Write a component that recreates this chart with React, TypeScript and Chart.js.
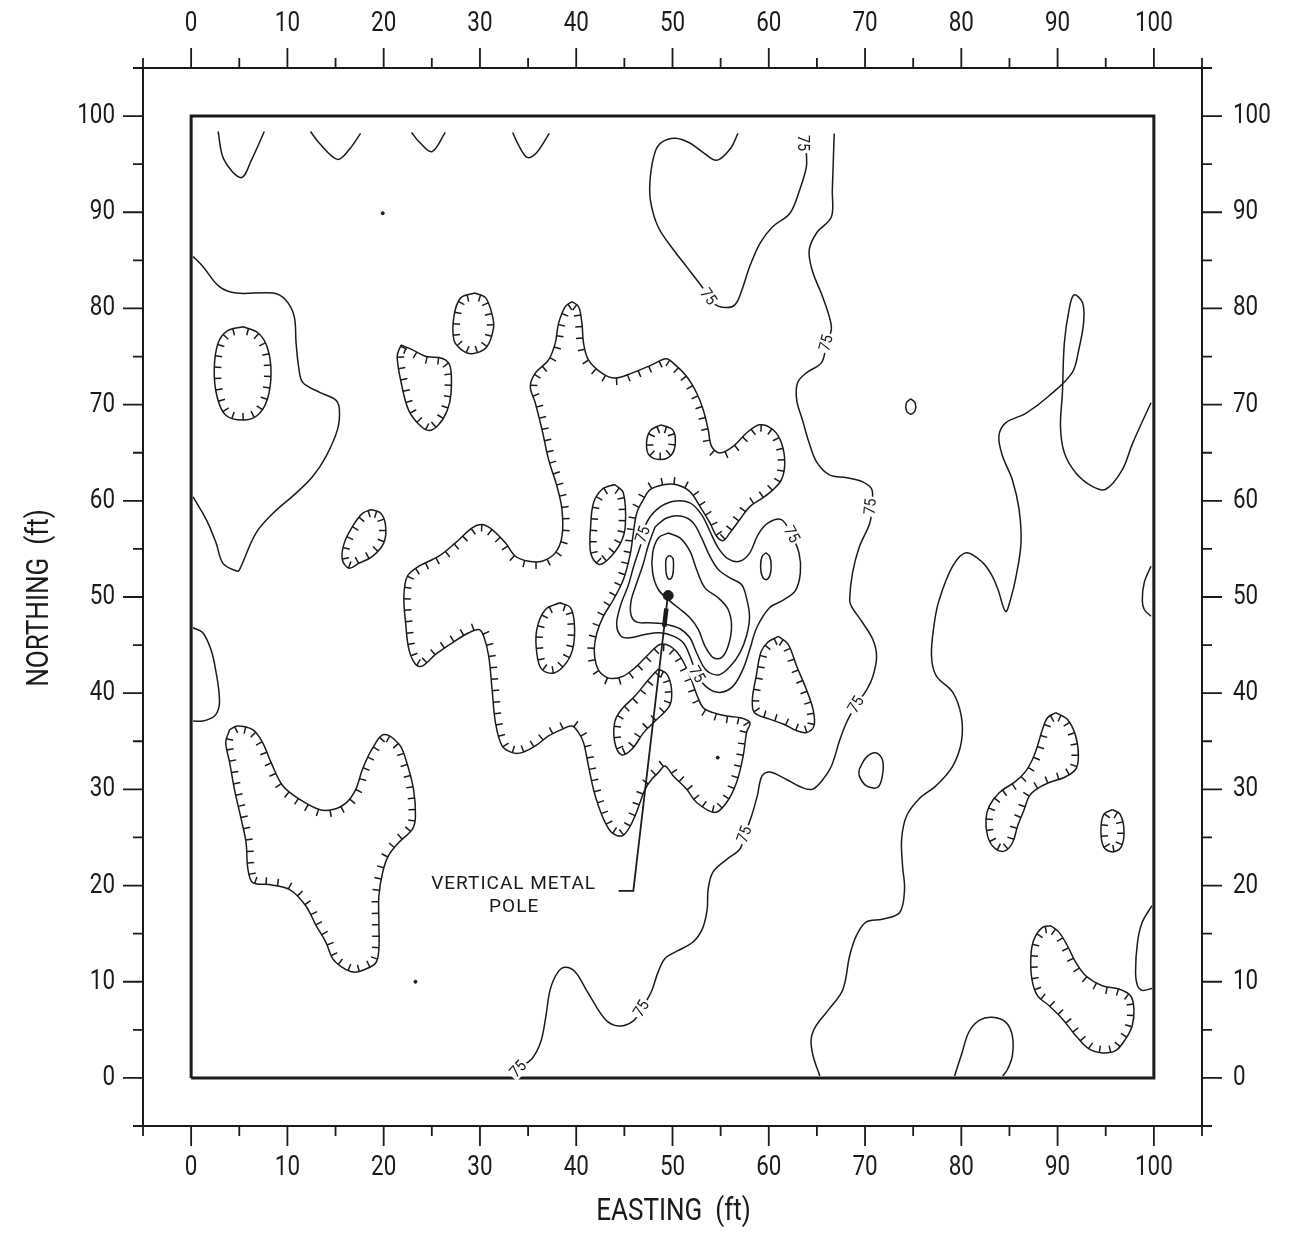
import React, { useEffect, useRef } from 'react';
import { Chart, registerables } from 'chart.js';

Chart.register(...registerables);

type P = [number, number];

const W = 1296;
const H = 1235;
const INK = '#1a1a1a';

// ---------- axes ----------
const AXIS_MIN = -5;
const AXIS_MAX = 105;
const majorTicks = [0, 10, 20, 30, 40, 50, 60, 70, 80, 90, 100];
const minorTicks = [-5, 5, 15, 25, 35, 45, 55, 65, 75, 85, 95, 105];
const tickLabels = ['0', '10', '20', '30', '40', '50', '60', '70', '80', '90', '100'];
const xTitle = 'EASTING  (ft)';
const yTitle = 'NORTHING  (ft)';

// survey boundary
const surveyBox: P[] = [[0, 0], [100, 0], [100, 100], [0, 100], [0, 0]];

// ---------- plain (non-depression) contours, open ----------
const topV1: P[] = [[2.8, 98.4], [3.4, 95.5], [5.2, 93.6], [6.3, 95.5], [7.6, 98.4]];
const topV2: P[] = [[12.4, 98.4], [13.3, 97.2], [15.2, 95.5], [16.4, 96.5], [17.6, 98.2]];
const topV3: P[] = [[22.9, 98.3], [23.7, 97.3], [25.0, 96.3], [26.4, 98.3]];
const topV4: P[] = [[33.4, 98.3], [34.0, 97.0], [34.9, 95.7], [35.8, 96.1], [37.2, 98.2]];

const northLoop: P[] = [
  [56.8, 98.2], [56.0, 96.6], [54.6, 95.4], [53.2, 96.2], [51.8, 97.2], [50.3, 97.7], [48.9, 97.3],
  [48.2, 96.3], [47.7, 93.7], [47.7, 91.3], [48.5, 88.5], [50.1, 86.1], [51.5, 84.3], [53.1, 82.2],
  [54.2, 80.6], [55.4, 80.1], [56.5, 80.4], [57.2, 81.9], [58.0, 84.3], [59.1, 86.8], [60.4, 88.5],
  [62.2, 89.9], [63.2, 92.3], [63.9, 94.7], [63.9, 96.2], [63.8, 98.2],
];

const contour75Main: P[] = [
  [66.8, 98.2], [66.6, 92.3], [66.5, 89.5], [65.0, 87.9], [64.2, 86.1], [64.5, 84.0], [65.6, 81.2],
  [66.3, 79.1], [66.5, 77.8], [66.0, 76.4], [65.5, 74.4], [63.9, 73.3], [63.0, 72.3], [62.9, 70.5],
  [63.5, 68.4], [64.2, 66.0], [65.0, 64.0], [66.3, 62.7], [68.1, 62.4], [69.7, 62.0], [70.7, 61.2],
  [70.7, 59.4], [70.5, 57.7], [69.4, 55.2], [68.7, 52.5], [68.4, 49.7], [68.6, 49.0], [69.7, 47.4],
  [70.8, 45.6], [71.2, 43.8], [70.8, 41.7], [70.2, 40.4], [69.1, 38.8], [68.1, 37.0], [67.4, 35.2],
  [66.5, 32.4], [65.6, 31.0], [64.5, 30.0], [63.2, 30.3], [61.9, 31.0], [60.1, 31.8], [59.3, 31.4],
  [58.8, 29.3], [58.2, 27.2], [57.5, 25.3], [57.0, 23.8], [55.6, 22.7], [54.2, 21.4], [53.7, 19.6],
  [53.6, 17.5], [53.1, 15.5], [52.1, 14.1], [50.5, 13.2], [49.2, 12.4], [48.5, 11.0], [47.9, 9.2],
  [47.4, 8.2], [46.8, 7.2], [45.9, 5.9], [44.4, 5.4], [43.0, 6.1], [41.2, 8.9], [39.9, 11.0],
  [38.9, 11.5], [38.1, 11.0], [37.3, 9.2], [36.8, 6.1], [36.3, 3.7], [35.4, 2.0], [34.0, 0.9], [33.7, 0.1],
];

const contourEast: P[] = [
  [99.7, 70.2], [97.8, 66.0], [96.7, 63.2], [95.0, 61.2], [93.6, 61.5], [91.9, 62.9], [90.7, 65.0],
  [90.3, 67.7], [90.5, 71.2], [90.7, 76.4], [91.2, 79.9], [91.7, 81.4], [92.6, 80.6], [92.7, 78.5],
  [92.2, 75.7], [91.5, 73.3], [89.1, 70.9], [86.7, 69.1], [84.6, 68.1], [83.9, 66.7], [84.3, 64.6],
  [85.3, 62.2], [86.0, 59.1], [86.2, 55.6], [85.7, 52.2], [85.1, 49.7], [84.6, 48.5], [83.8, 50.8],
  [83.2, 52.2], [82.2, 53.6], [80.5, 54.6], [79.1, 53.2], [77.7, 49.7], [77.2, 47.3], [76.9, 43.9],
  [77.4, 41.8], [79.1, 40.1], [80.0, 37.6], [80.0, 34.9], [79.1, 32.4], [77.4, 30.4], [75.6, 29.0],
  [74.3, 27.2], [73.8, 24.8], [73.9, 22.0], [74.1, 19.6], [73.6, 17.2], [71.8, 16.5], [70.1, 16.2],
  [69.1, 14.8], [68.4, 12.7], [67.7, 9.2], [66.3, 7.2], [64.9, 5.4], [64.4, 4.0], [64.6, 2.3], [65.3, 0.2],
];

const eastEdgeBump: P[] = [[99.7, 53.2], [99.0, 51.5], [98.8, 49.7], [99.0, 48.7], [99.7, 48.0]];
const eastEdgeLow: P[] = [[99.8, 17.9], [98.8, 16.2], [98.3, 14.1], [98.1, 11.0], [98.3, 9.6], [98.8, 9.1], [99.8, 9.3]];
const southBump: P[] = [
  [79.3, 0.2], [80.1, 2.7], [80.8, 4.8], [81.9, 6.0], [83.2, 6.3], [84.6, 5.8], [85.3, 4.4],
  [85.3, 2.3], [84.8, 0.9], [84.3, 0.2],
];
const westLobe: P[] = [
  [0.2, 85.4], [1.2, 84.4], [2.9, 82.3], [4.7, 81.6], [8.5, 81.6], [9.8, 80.9], [10.7, 79.2],
  [10.9, 76.4], [11.2, 73.7], [11.6, 72.3], [13.3, 71.3], [15.0, 70.5], [15.4, 69.5], [15.2, 67.4],
  [14.0, 64.6], [12.6, 62.5], [10.9, 60.8], [8.5, 58.7], [6.7, 56.6], [5.0, 52.8], [4.7, 52.7],
  [3.3, 53.5], [2.6, 55.6], [1.6, 58.0], [0.2, 60.4],
];
const westLow: P[] = [[0.2, 46.8], [1.2, 46.3], [2.1, 44.4], [2.6, 42.1], [2.9, 40.0], [2.9, 38.6], [2.4, 37.6], [1.2, 37.1], [0.2, 37.1]];

// ---------- plain closed contours ----------
const loop71: P[] = [[69.4, 32.1], [70.1, 33.3], [71.1, 33.8], [71.8, 33.1], [71.8, 31.4], [71.3, 30.2], [70.1, 30.4], [69.4, 31.4]];
const tiny75: P[] = [[74.75, 70.6], [75.2, 70.2], [75.2, 69.4], [74.75, 69.0], [74.3, 69.4], [74.3, 70.2]];
const ringB: P[] = [
  [46.7, 55.4], [47.2, 57.5], [48.36, 59.09], [50.09, 59.95], [51.81, 59.78], [53.02, 58.57], [53.88, 56.84],
  [54.75, 55.11], [55.78, 53.96], [57.0, 53.72], [58.03, 54.59], [58.89, 56.49], [59.93, 57.7], [61.31, 58.05],
  [62.35, 56.49], [63.14, 54.59], [63.28, 52.51], [62.76, 50.67], [61.45, 49.64], [60.1, 48.91], [58.76, 46.83],
  [58.03, 44.55], [57.31, 42.47], [56.27, 40.71], [54.92, 40.08], [53.58, 40.6], [52.54, 41.95], [51.81, 43.86],
  [51.12, 45.24], [50.09, 45.93], [48.7, 46.28], [47.15, 46.11], [45.59, 45.76], [44.7, 45.9], [44.2, 47.1],
  [44.6, 49.1], [45.4, 51.2], [46.0, 53.3],
];
const ringC: P[] = [
  [48.2, 57.3], [49.39, 58.22], [50.95, 58.39], [52.16, 57.7], [53.02, 56.14], [53.88, 54.24], [54.75, 52.86],
  [55.96, 51.99], [57.17, 51.3], [57.68, 49.92], [58.0, 48.0], [57.7, 46.0], [57.0, 44.2], [56.0, 42.8],
  [54.8, 41.9], [53.5, 42.4], [52.5, 44.2], [51.81, 45.76], [50.78, 46.7], [49.39, 47.15], [47.67, 47.32],
  [46.29, 47.39], [45.7, 48.1], [45.7, 49.6], [46.3, 51.5], [46.95, 53.4], [47.5, 55.4],
];
const ringD: P[] = [
  [49.57, 56.66], [50.78, 56.14], [51.81, 54.76], [52.5, 52.86], [53.37, 50.95], [54.75, 49.92], [55.78, 48.7],
  [56.13, 46.97], [55.78, 44.9], [55.09, 43.69], [54.23, 43.69], [53.37, 44.9], [52.68, 46.63], [51.81, 47.84],
  [50.6, 48.88], [49.74, 49.57], [48.53, 50.78], [47.94, 52.51], [47.94, 54.59], [48.53, 56.14],
];
const ovalPole: P[] = [[49.7, 54.35], [50.05, 54.0], [50.1, 53.1], [50.0, 52.2], [49.7, 51.85], [49.4, 52.2], [49.3, 53.1], [49.35, 54.0]];
const ovalEast: P[] = [[59.7, 54.6], [60.1, 54.2], [60.25, 53.2], [60.1, 52.2], [59.7, 51.8], [59.3, 52.2], [59.15, 53.2], [59.3, 54.2]];

// ---------- depression (hachured) contours ----------
const dep1: P[] = [[5.4, 78.1], [6.9, 77.5], [7.9, 76.0], [8.3, 73.3], [7.9, 70.5], [6.9, 68.9], [5.4, 68.4], [3.6, 68.9], [2.7, 70.8], [2.4, 73.6], [2.8, 76.4], [3.8, 77.7]];
const dep2: P[] = [[21.8, 76.2], [23.0, 75.7], [24.4, 75.0], [26.1, 74.8], [26.9, 74.0], [27.0, 71.2], [26.6, 69.4], [25.7, 67.9], [24.7, 67.3], [23.7, 67.9], [22.6, 69.4], [21.9, 71.9], [21.4, 75.0]];
const dep3: P[] = [[29.5, 81.6], [30.6, 81.1], [31.3, 79.2], [31.4, 77.9], [30.7, 76.0], [29.2, 75.3], [28.1, 75.7], [27.3, 76.7], [27.3, 79.2], [28.0, 81.1]];
const dep4: P[] = [[18.7, 59.1], [19.7, 58.7], [20.2, 57.4], [20.0, 55.6], [18.8, 54.2], [17.4, 53.5], [16.4, 53.0], [15.7, 53.9], [15.9, 55.6], [16.8, 57.4], [17.8, 58.7]];
const dep5: P[] = [[48.8, 67.9], [50.0, 67.4], [50.3, 66.1], [49.9, 64.8], [48.8, 64.3], [47.6, 64.7], [47.3, 66.0], [47.7, 67.3]];
const dep6: P[] = [[44.0, 61.7], [44.9, 60.8], [45.1, 57.4], [44.6, 55.6], [43.3, 53.9], [42.3, 53.4], [41.5, 54.6], [41.5, 57.4], [41.8, 59.8], [42.7, 61.2]];
const dep7: P[] = [[38.3, 49.4], [39.4, 48.9], [39.8, 47.3], [39.7, 44.9], [39.0, 43.2], [37.7, 42.1], [36.4, 42.5], [35.9, 44.2], [35.9, 46.6], [36.8, 48.7]];
const dep8: P[] = [[48.5, 42.5], [49.4, 42.0], [49.9, 40.4], [49.7, 38.7], [48.2, 37.1], [47.0, 35.9], [45.8, 34.2], [44.7, 33.6], [44.0, 34.9], [44.0, 37.0], [44.7, 38.3], [46.1, 39.7], [47.5, 41.4]];
const dep9: P[] = [[61.0, 45.9], [62.0, 45.1], [62.9, 42.8], [63.9, 40.4], [64.6, 38.3], [64.7, 36.6], [63.9, 35.9], [62.9, 36.1], [61.5, 36.8], [60.1, 37.3], [58.5, 38.0], [58.3, 39.4], [58.7, 41.8], [59.2, 44.3], [59.9, 45.3]];
const dep10: P[] = [
  [4.0, 36.2], [4.8, 36.6], [6.4, 36.2], [7.4, 34.9], [8.3, 32.8], [9.5, 30.4], [11.2, 29.0], [13.3, 27.9],
  [14.7, 27.9], [16.1, 28.6], [17.1, 30.0], [17.8, 32.1], [18.8, 34.2], [20.0, 35.7], [21.6, 34.7], [22.3, 33.1],
  [23.1, 30.0], [23.3, 27.2], [23.0, 25.9], [21.6, 24.5], [20.5, 23.1], [19.9, 21.4], [19.5, 18.9], [19.5, 16.2],
  [19.5, 13.4], [19.2, 12.0], [18.1, 11.3], [16.9, 11.0], [15.7, 11.5], [14.7, 12.4], [14.0, 14.1], [13.0, 15.8],
  [11.9, 17.9], [10.2, 19.6], [8.1, 20.1], [6.4, 20.3], [5.9, 21.7], [5.7, 24.5], [5.2, 26.9], [4.5, 30.0],
  [4.0, 32.8], [3.6, 34.9],
];
const depCentral: P[] = [
  [39.55, 80.72], [40.24, 80.2], [40.59, 78.47], [40.76, 76.4], [41.27, 74.66], [42.66, 73.28], [44.04, 72.76],
  [45.77, 73.28], [47.84, 74.14], [49.33, 74.77], [50.08, 74.32], [51.47, 72.93], [52.51, 71.21], [53.19, 69.47],
  [53.71, 67.39], [54.06, 65.66], [54.92, 64.97], [56.3, 65.66], [57.69, 67.05], [59.07, 67.91], [60.45, 67.39],
  [61.32, 66.01], [61.66, 63.94], [61.32, 62.2], [60.45, 61.16], [59.41, 60.33], [58.03, 59.4], [56.99, 58.05],
  [55.96, 56.67], [55.26, 55.87], [54.58, 56.31], [53.89, 57.7], [52.85, 59.43], [51.81, 60.96], [50.44, 61.68],
  [49.05, 61.68], [47.67, 61.16], [46.97, 60.12], [46.29, 58.74], [45.91, 56.49], [45.6, 54.41], [44.9, 51.82],
  [43.87, 49.74], [42.83, 48.01], [42.15, 46.28], [41.87, 44.55], [42.07, 42.99], [42.49, 42.16], [43.52, 41.54],
  [44.9, 41.78], [46.29, 42.81], [47.67, 44.21], [48.7, 45.07], [49.74, 44.89], [50.78, 43.85], [51.81, 41.78],
  [52.51, 39.88], [53.19, 38.49], [54.23, 37.98], [55.62, 37.62], [56.99, 37.46], [58.03, 36.94], [57.69, 35.9],
  [57.34, 33.47], [56.65, 30.71], [55.62, 28.63], [54.4, 27.59], [52.51, 28.63], [51.47, 30.01], [50.08, 31.39],
  [49.22, 32.43], [48.53, 31.74], [47.84, 31.05], [47.15, 30.01], [46.63, 28.63], [46.11, 27.24], [45.42, 25.86],
  [44.74, 25.16], [43.7, 25.51], [43.01, 26.55], [42.31, 28.28], [41.79, 30.01], [41.27, 32.43], [40.76, 34.86],
  [40.24, 35.9], [39.55, 36.58], [38.52, 36.24], [37.13, 35.55], [35.75, 34.51], [34.37, 33.82], [33.34, 33.82],
  [32.3, 34.51], [31.61, 36.94], [31.26, 40.39], [30.91, 43.85], [30.39, 45.93], [29.88, 46.62], [28.84, 46.28],
  [27.12, 45.24], [25.39, 44.03], [24.01, 42.81], [23.32, 42.99], [22.62, 44.55], [22.28, 47.32], [22.1, 50.08],
  [22.46, 52.16], [23.66, 53.2], [25.73, 54.24], [27.46, 55.63], [29.19, 57.19], [30.23, 57.53], [31.26, 57.01],
  [32.64, 55.63], [33.68, 54.24], [35.06, 53.72], [36.45, 53.72], [37.82, 54.59], [38.52, 56.31], [38.52, 59.09],
  [38.0, 61.51], [37.13, 64.28], [36.45, 67.39], [35.75, 70.17], [35.23, 71.89], [35.75, 73.28], [37.13, 74.66],
  [37.82, 76.4], [38.17, 78.47], [38.86, 80.2],
];
const dep12: P[] = [
  [89.81, 37.97], [91.01, 37.28], [91.88, 35.55], [92.16, 33.47], [91.88, 32.09], [90.67, 31.23], [89.12, 30.71],
  [87.74, 29.98], [87.05, 29.29], [86.53, 27.91], [85.84, 26.17], [85.32, 24.45], [84.46, 23.58], [83.42, 23.93],
  [82.73, 25.14], [82.56, 26.88], [82.9, 28.26], [83.94, 29.65], [85.67, 30.86], [86.7, 31.9], [87.39, 33.11],
  [87.91, 34.5], [88.43, 36.24], [88.95, 37.45],
];
const dep13: P[] = [[95.7, 27.9], [96.5, 27.4], [96.9, 25.7], [96.6, 24.0], [95.7, 23.5], [94.8, 24.0], [94.5, 25.7], [94.8, 27.4]];
const dep14: P[] = [
  [89.3, 15.82], [90.16, 15.13], [91.02, 13.74], [91.89, 12.01], [92.92, 10.62], [94.64, 9.58], [96.37, 9.24],
  [97.58, 8.54], [97.93, 7.16], [97.75, 5.43], [97.06, 4.05], [96.03, 2.83], [94.64, 2.6], [93.26, 3.01],
  [91.89, 4.39], [90.5, 6.13], [89.12, 7.51], [87.91, 8.55], [87.33, 10.28], [87.23, 12.7], [87.56, 14.43], [88.43, 15.65],
];

// contour value labels
const contourLabelText = '75';
const contourLabelPoints: P[] = [
  [63.55, 97.2], [53.7, 81.2], [66.0, 76.4], [70.6, 59.4], [69.1, 38.8], [57.5, 25.3], [46.8, 7.2],
  [34.0, 0.9], [46.95, 56.5], [62.35, 56.49], [52.5, 41.95],
];
const contourLabelAngles = [90, 55, -74, -85, -59, -70, -59, -47, -71, 62, 60];

// pole annotation
const poleLocation: P[] = [[49.55, 50.15]];
const leaderLine: P[] = [[44.4, 19.45], [45.93, 19.45], [49.5, 50.0]];
const leaderArrow: P[] = [[49.14, 46.9], [49.36, 48.8]];
const poleText = ['VERTICAL METAL', 'POLE'];
const poleTextPoints: P[] = [[33.5, 20.1], [33.55, 17.7]];
const specks: P[] = [[19.9, 89.9], [23.3, 10.0], [54.7, 33.3]];

const plainOpen = [topV1, topV2, topV3, topV4, northLoop, contour75Main, contourEast, eastEdgeBump, eastEdgeLow, southBump, westLobe, westLow];
const plainClosed = [loop71, tiny75, ringB, ringC, ringD, ovalPole, ovalEast];
const depressions = [dep1, dep2, dep3, dep4, dep5, dep6, dep7, dep8, dep9, dep10, depCentral, dep12, dep13, dep14];

const close = (pts: P[]): P[] => [...pts, pts[0]];
const toXY = (pts: P[]) => pts.map(([x, y]) => ({ x, y }));

const HACH_SPACING = 11.5;
const HACH_LEN = 7;

function drawHachures(ctx: CanvasRenderingContext2D, elems: any[]) {
  const poly: number[][] = [];
  for (let i = 0; i < elems.length; i++) {
    const a = elems[i];
    if (i === elems.length - 1) {
      poly.push([a.x, a.y]);
      break;
    }
    const b = elems[i + 1];
    const c1x = a.cp2x ?? a.x, c1y = a.cp2y ?? a.y;
    const c2x = b.cp1x ?? b.x, c2y = b.cp1y ?? b.y;
    for (let k = 0; k < 10; k++) {
      const t = k / 10, u = 1 - t;
      poly.push([
        u * u * u * a.x + 3 * u * u * t * c1x + 3 * u * t * t * c2x + t * t * t * b.x,
        u * u * u * a.y + 3 * u * u * t * c1y + 3 * u * t * t * c2y + t * t * t * b.y,
      ]);
    }
  }
  let area = 0;
  for (let i = 0; i < poly.length - 1; i++) area += poly[i][0] * poly[i + 1][1] - poly[i + 1][0] * poly[i][1];
  const s = area > 0 ? 1 : -1;
  let acc = HACH_SPACING / 2;
  ctx.beginPath();
  for (let i = 0; i < poly.length - 1; i++) {
    const [x0, y0] = poly[i];
    const [x1, y1] = poly[i + 1];
    const seg = Math.hypot(x1 - x0, y1 - y0);
    if (seg === 0) continue;
    const ux = (x1 - x0) / seg, uy = (y1 - y0) / seg;
    const nx = -uy * s, ny = ux * s;
    let d = acc;
    while (d <= seg) {
      const px = x0 + ux * d, py = y0 + uy * d;
      ctx.moveTo(px, py);
      ctx.lineTo(px + nx * HACH_LEN, py + ny * HACH_LEN);
      d += HACH_SPACING;
    }
    acc = d - seg;
  }
  ctx.stroke();
}

function txt(ctx: CanvasRenderingContext2D, s: string, x: number, y: number, font: string, align: CanvasTextAlign, sx: number, rot = 0) {
  ctx.save();
  ctx.translate(x, y);
  if (rot) ctx.rotate(rot);
  ctx.scale(sx, 1);
  ctx.font = font;
  ctx.fillStyle = INK;
  ctx.textAlign = align;
  ctx.textBaseline = 'middle';
  ctx.fillText(s, 0, 0);
  ctx.restore();
}

const TICK_FONT = '28px Roboto, "Liberation Sans", sans-serif';
const TITLE_FONT = '31px Roboto, "Liberation Sans", sans-serif';

const decor = {
  id: 'decor',
  afterDatasetsDraw(chart: any) {
    const ctx: CanvasRenderingContext2D = chart.ctx;
    const xs = chart.scales.x, ys = chart.scales.y;
    ctx.save();
    ctx.strokeStyle = INK;
    ctx.lineWidth = 1.5;
    chart.data.datasets.forEach((ds: any, i: number) => {
      if (!ds.hachure) return;
      const meta = chart.getDatasetMeta(i);
      drawHachures(ctx, meta.data as any[]);
    });
    ctx.restore();

    contourLabelPoints.forEach(([x, y], i) => {
      const px = xs.getPixelForValue(x), py = ys.getPixelForValue(y);
      ctx.save();
      ctx.translate(px, py);
      ctx.rotate((contourLabelAngles[i] * Math.PI) / 180);
      ctx.fillStyle = '#fff';
      ctx.fillRect(-10, -7, 20, 14);
      ctx.scale(0.9, 1);
      ctx.font = '16px Roboto, "Liberation Sans", sans-serif';
      ctx.fillStyle = INK;
      ctx.textAlign = 'center';
      ctx.textBaseline = 'middle';
      ctx.fillText(contourLabelText, 0, 0.5);
      ctx.restore();
    });

    poleText.forEach((s, i) => {
      const [x, y] = poleTextPoints[i];
      ctx.save();
      ctx.font = '19px Roboto, "Liberation Sans", sans-serif';
      (ctx as any).letterSpacing = '1px';
      ctx.fillStyle = INK;
      ctx.textAlign = 'center';
      ctx.textBaseline = 'middle';
      ctx.fillText(s, xs.getPixelForValue(x), ys.getPixelForValue(y));
      ctx.restore();
    });
  },
  afterDraw(chart: any) {
    const ctx: CanvasRenderingContext2D = chart.ctx;
    const { left, right, top, bottom } = chart.chartArea;
    const sx = chart.scales.x, sx2 = chart.scales.x2, sy = chart.scales.y, sy2 = chart.scales.y2;
    ctx.save();
    ctx.strokeStyle = INK;
    ctx.lineWidth = 1.8;
    ctx.beginPath();
    const tick = (v: number, len: number) => {
      const xb = sx.getPixelForValue(v);
      ctx.moveTo(xb, bottom); ctx.lineTo(xb, bottom + len);
      const xt = sx2.getPixelForValue(v);
      ctx.moveTo(xt, top); ctx.lineTo(xt, top - len);
      const yl = sy.getPixelForValue(v);
      ctx.moveTo(left, yl); ctx.lineTo(left - len, yl);
      const yr = sy2.getPixelForValue(v);
      ctx.moveTo(right, yr); ctx.lineTo(right + len, yr);
    };
    majorTicks.forEach((v) => tick(v, 20));
    minorTicks.forEach((v) => tick(v, 10));
    ctx.stroke();
    ctx.restore();

    majorTicks.forEach((v, i) => {
      const lab = tickLabels[i];
      txt(ctx, lab, sx.getPixelForValue(v), bottom + 42, TICK_FONT, 'center', 0.8);
      txt(ctx, lab, sx2.getPixelForValue(v), top - 44, TICK_FONT, 'center', 0.8);
      txt(ctx, lab, left - 28, sy.getPixelForValue(v), TICK_FONT, 'right', 0.8);
      txt(ctx, lab, right + 31, sy2.getPixelForValue(v), TICK_FONT, 'left', 0.8);
    });
    txt(ctx, xTitle, (left + right) / 2 + 1, bottom + 86, TITLE_FONT, 'center', 0.84);
    txt(ctx, yTitle, left - 103, (top + bottom) / 2 + 1, TITLE_FONT, 'center', 0.84, -Math.PI / 2);
  },
};

function axis(position: string, size: number) {
  const horizontal = position === 'top' || position === 'bottom';
  return {
    type: 'linear',
    position,
    min: AXIS_MIN,
    max: AXIS_MAX,
    ticks: { display: false },
    grid: { display: true, drawOnChartArea: false, drawTicks: false },
    border: { display: true, color: INK, width: 2 },
    afterFit: (s: any) => {
      if (horizontal) s.height = size;
      else s.width = size;
    },
  };
}

export default function App() {
  const ref = useRef<HTMLCanvasElement>(null);
  useEffect(() => {
    const line = (pts: P[], extra: any = {}) => ({
      data: toXY(pts),
      showLine: true,
      borderColor: INK,
      borderWidth: 1.5,
      pointRadius: 0,
      tension: 0.35,
      fill: false,
      ...extra,
    });
    const datasets: any[] = [
      line(surveyBox, { borderWidth: 3, tension: 0 }),
      ...plainOpen.map((p) => line(p)),
      ...plainClosed.map((p) => line(close(p))),
      ...depressions.map((p) => line(close(p), { hachure: true })),
      line(leaderLine, { borderWidth: 1.8, tension: 0 }),
      line(leaderArrow, { borderWidth: 4.5, tension: 0 }),
      { data: toXY(poleLocation), showLine: false, pointRadius: 5, pointBackgroundColor: INK, pointBorderColor: INK },
      { data: toXY(specks), showLine: false, pointRadius: 1.5, pointBackgroundColor: INK, pointBorderColor: INK },
    ];
    const chart = new Chart(ref.current as HTMLCanvasElement, {
      type: 'scatter',
      data: { datasets },
      options: {
        animation: false,
        responsive: false,
        devicePixelRatio: 1,
        events: [],
        layout: { padding: 0 },
        plugins: { legend: { display: false }, tooltip: { enabled: false } },
        scales: {
          x: axis('bottom', 109),
          x2: axis('top', 68),
          y: axis('left', 143),
          y2: axis('right', 94),
        } as any,
      },
      plugins: [decor as any],
    });
    return () => chart.destroy();
  }, []);
  return (
    <div style={{ position: 'absolute', left: 0, top: 0, width: W, height: H, background: '#fff' }}>
      <canvas ref={ref} width={W} height={H} style={{ display: 'block', width: W, height: H }} />
    </div>
  );
}
